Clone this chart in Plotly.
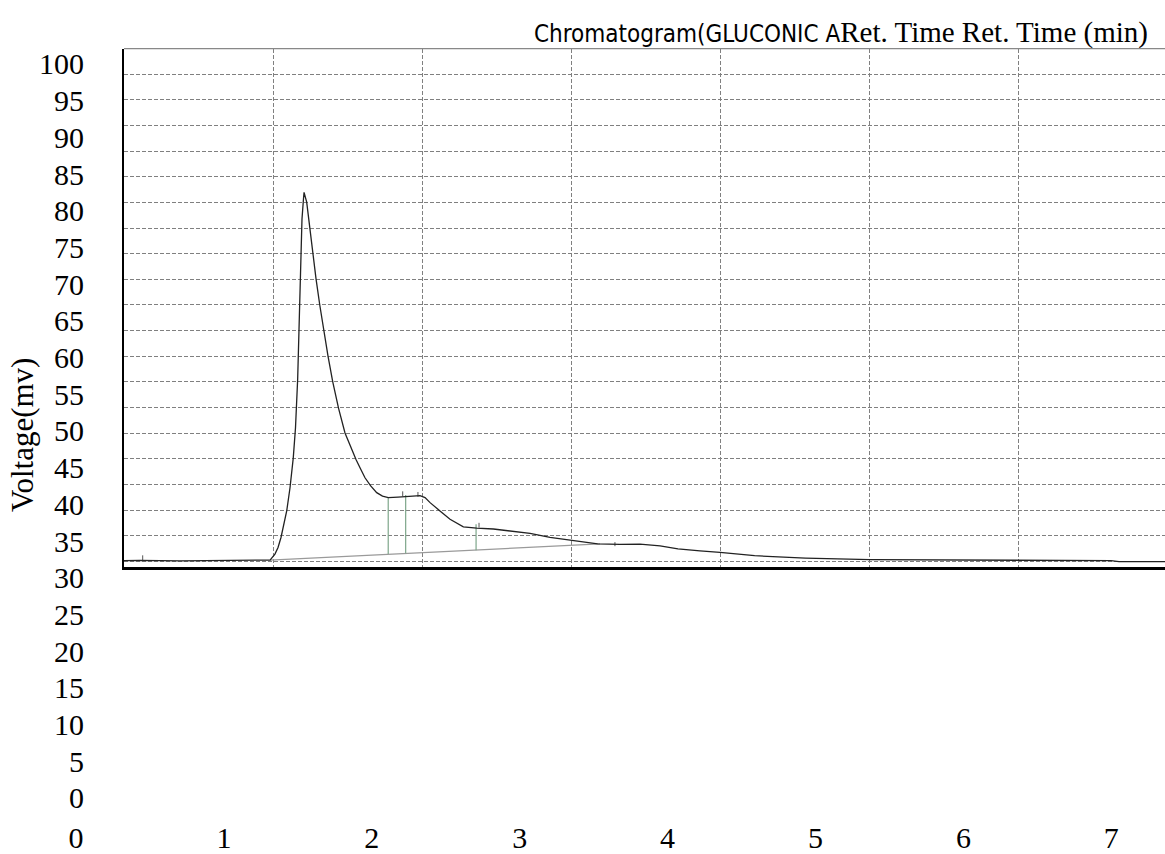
import plotly.graph_objects as go

# ---------------- data (label units: minutes / mV) ----------------
ret_time = [0.3245, 0.4327, 0.703, 0.974, 1.176, 1.278, 1.312, 1.345, 1.366, 1.386,
            1.406, 1.425, 1.447, 1.469, 1.484, 1.499, 1.508, 1.515, 1.528, 1.538,
            1.542, 1.5598, 1.5808, 1.6024, 1.6227, 1.6484, 1.6748, 1.7039, 1.7356, 1.7593,
            1.7749, 1.8188, 1.8526, 1.8932, 1.9236, 1.9540, 1.9912, 2.0331, 2.0723, 2.1116,
            2.177, 2.258, 2.326, 2.360,
            2.394, 2.461, 2.529, 2.619, 2.709, 2.822, 2.934, 3.070, 3.205, 3.352,
            3.527, 3.678, 3.813, 3.949, 4.070, 4.219, 4.354, 4.588, 4.932, 5.368,
            5.734, 6.373, 6.998, 7.052, 7.363]
voltage = [32.33, 32.37, 32.30, 32.33, 32.37, 32.43, 32.41, 33.22, 34.13, 35.48,
           37.25, 39.14, 42.26, 46.33, 50.40, 57.18, 63.96, 70.74, 78.87, 81.59,
           82.49, 81.18, 77.52, 73.90, 70.74, 67.12, 63.69, 60.20, 56.73, 54.47,
           53.11, 49.72, 47.96, 46.10, 44.84, 43.62, 42.54, 41.59, 41.11, 40.91,
           40.98, 41.11, 41.18, 40.91,
           40.23, 39.10, 37.97, 36.94, 36.75, 36.64, 36.37, 36.03, 35.49, 35.04,
           34.60, 34.54, 34.58, 34.33, 33.93, 33.65, 33.45, 33.00, 32.68, 32.46,
           32.41, 32.41, 32.33, 32.19, 32.19]

baseline_time = [1.312, 3.543]
baseline_volt = [32.41, 34.60]

drop_time = [2.111, 2.229, 2.705]
drop_top = [40.91, 41.27, 37.29]
drop_bottom = [33.22, 33.32, 33.76]

mark_time = [0.451, 2.209, 2.312, 2.725, 3.644]
mark_top = [33.05, 41.77, 41.68, 37.48, 34.85]
mark_bottom = [32.37, 41.11, 41.04, 36.84, 34.30]

y_ticks = list(range(0, 101, 5))
y_labels = [str(v) for v in y_ticks]
x_ticks = list(range(0, 8))
x_labels = [str(v) for v in x_ticks]

grid_cols = list(range(0, 8))
grid_rows = list(range(0, 21))

title_sans = "Chromatogram(GLUCONIC A"
title_serif = "Ret. Time Ret. Time (min)"
y_title = "Voltage(mv)"

# ---------------- figure ----------------
W, H = 1165, 854
SERIF = "Liberation Serif, Times New Roman, serif"

def seg(xs, y0s, y1s):
    X, Y = [], []
    for x, a, b in zip(xs, y0s, y1s):
        X += [x, x, None]
        Y += [a, b, None]
    return X, Y

fig = go.Figure()

# empty trace so that the grid subplot is created
fig.add_trace(go.Scatter(x=[], y=[], xaxis="x", yaxis="y", showlegend=False, hoverinfo="skip"))

fig.add_trace(go.Scatter(x=baseline_time, y=baseline_volt, mode="lines",
                         line=dict(color="#9a9a9a", width=1.2),
                         xaxis="x2", yaxis="y2", showlegend=False))
dx, dy = seg(drop_time, drop_bottom, drop_top)
fig.add_trace(go.Scatter(x=dx, y=dy, mode="lines",
                         line=dict(color="#7da68a", width=1.2),
                         xaxis="x2", yaxis="y2", showlegend=False))
mx, my = seg(mark_time, mark_bottom, mark_top)
fig.add_trace(go.Scatter(x=mx, y=my, mode="lines",
                         line=dict(color="#555555", width=1),
                         xaxis="x2", yaxis="y2", showlegend=False))
fig.add_trace(go.Scatter(x=ret_time, y=voltage, mode="lines",
                         line=dict(color="#222222", width=1.3),
                         xaxis="x2", yaxis="y2", showlegend=False))

# grid-area geometry (pixels)
gl, gt, gb = 124, 48.8, 570
col_px = 149.0
row_px = 25.76

fig.update_layout(
    width=W, height=H, autosize=False,
    margin=dict(l=0, r=0, t=0, b=0),
    paper_bgcolor="white", plot_bgcolor="rgba(0,0,0,0)",
    font=dict(family=SERIF, color="black", size=30),
    showlegend=False,
    xaxis=dict(domain=[gl / W, 1], range=[0, (W - gl) / col_px],
               tickvals=grid_cols, showticklabels=False, ticks="",
               showgrid=True, gridcolor="#808080", griddash="4px,2px", gridwidth=1,
               zeroline=False, showline=True, linecolor="black", linewidth=3,
               anchor="y"),
    yaxis=dict(domain=[(H - gb) / H, (H - gt) / H],
               range=[-(gb - 564) / row_px, 20],
               tickvals=grid_rows, showticklabels=False, ticks="",
               showgrid=True, gridcolor="#808080", griddash="4px,2px", gridwidth=1,
               zeroline=False, showline=True, linecolor="black", linewidth=2,
               anchor="x"),
    xaxis2=dict(domain=[0, 1], range=[-76 / 147.9, (W - 76) / 147.9],
                tickvals=x_ticks, ticktext=x_labels, ticks="",
                showgrid=False, zeroline=False, showline=False,
                anchor="free", position=(H - 821) / H,
                tickfont=dict(family=SERIF, size=30, color="black")),
    yaxis2=dict(domain=[0, 1], range=[100 - (H - 64.2) / 7.375, 100 + 64.2 / 7.375],
                tickvals=y_ticks, ticktext=y_labels, ticks="",
                showgrid=False, zeroline=False, showline=False,
                anchor="free", position=84 / W,
                tickfont=dict(family=SERIF, size=30, color="black")),
    shapes=[dict(type="line", xref="x domain", yref="y domain",
                 x0=0, x1=1, y0=1, y1=1, line=dict(color="#888888", width=1.2))],
    annotations=[
        dict(xref="paper", yref="paper", x=1150 / W, y=(H - 33) / H,
             xanchor="right", yanchor="middle", showarrow=False,
             text=("<span style=\"font-family:DejaVu Sans Condensed, Liberation Sans Narrow, sans-serif;font-size:24px\">"
                   + title_sans + "</span>" + title_serif),
             font=dict(family=SERIF, size=29, color="black")),
        dict(xref="paper", yref="paper", x=23 / W, y=(H - 437) / H,
             xanchor="center", yanchor="middle", showarrow=False, textangle=-90,
             text=y_title, font=dict(family=SERIF, size=31, color="black")),
    ],
)

fig.write_html("out.html", config={"displayModeBar": False},
               post_script="document.body.style.margin='0';")
